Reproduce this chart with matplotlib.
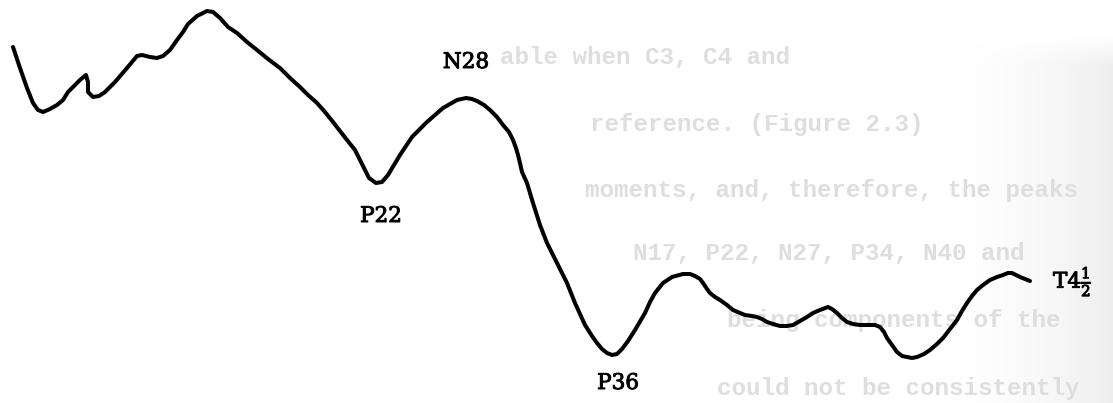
import numpy as np
import matplotlib
matplotlib.use("Agg")
import matplotlib.pyplot as plt
import matplotlib.patheffects as pe

plt.rcParams['mathtext.fontset'] = 'dejavuserif'

# traced evoked response (time axis left -> right, amplitude measured downwards)
t = [13, 20, 27, 33, 38, 43, 50, 57, 63, 68, 75, 80, 86, 88, 88, 93, 99, 105,
     115, 127, 137, 142, 150, 157, 163, 170, 177, 183, 188, 197, 207, 213, 220,
     228, 237, 247, 257, 268, 280, 290, 300, 308, 317, 325, 333, 340, 347, 355,
     360, 365, 369, 376, 382, 388, 394, 400, 406, 412, 420, 427, 435, 443, 450,
     457, 466, 472, 477, 484, 490, 497, 503, 509, 513, 516, 518, 520, 522, 527,
     533, 540, 547, 552, 557, 562, 567, 575, 585, 592, 597, 602, 607, 612, 617,
     622, 628, 635, 645, 650, 655, 663, 672, 683, 690, 695, 700, 703, 707, 710,
     715, 720, 727, 733, 740, 745, 752, 757, 762, 767, 773, 780, 787, 793, 800,
     807, 813, 820, 828, 832, 837, 842, 847, 853, 860, 867, 875, 880, 884, 887,
     892, 897, 902, 907, 912, 917, 924, 930, 937, 943, 950, 957, 962, 967, 972,
     977, 983, 990, 997, 1003, 1008, 1012, 1016, 1020, 1025, 1030]
amp = [47, 68, 88, 103, 110, 112, 109, 105, 100, 92, 85, 80, 75, 82, 92, 97, 96, 92,
       82, 68, 56, 55, 57, 58, 56, 50, 40, 32, 24, 16, 11, 12, 18,
       27, 33, 42, 50, 59, 68, 78, 87, 95, 103, 112, 122, 131, 140, 150,
       160, 170, 178, 183, 182, 175, 165, 155, 146, 137, 129, 122, 115, 108, 104,
       100, 98, 99, 101, 105, 110, 117, 125, 132, 140, 148, 155, 163, 172, 183,
       203, 225, 243, 253, 263, 273, 283, 303, 325, 336, 343, 349, 353, 355, 354,
       349, 341, 330, 313, 302, 293, 283, 277, 274, 274, 276, 279, 283, 289, 293,
       297, 300, 305, 310, 313, 315, 316, 317, 319, 322, 324, 326, 326, 325, 321,
       317, 313, 310, 307, 309, 313, 318, 322, 324, 325, 325, 325, 327, 332, 338,
       345, 352, 356, 357, 358, 357, 354, 350, 344, 338, 329, 320, 311, 303, 296,
       290, 285, 280, 277, 275, 273, 273, 275, 277, 279, 281]

peak_names = ['N28', 'P22', 'P36', r'T4$\frac{1}{2}$']
peak_pos = [(466, 62), (381, 216), (618, 383), (1053, 281)]
peak_ha = ['center', 'center', 'center', 'left']

# faint text showing through from the reverse of the page
back_lines = ['able when C3, C4 and',
              'reference. (Figure 2.3)',
              'moments, and, therefore, the peaks',
              'N17, P22, N27, P34, N40 and',
              'being components of the',
              'could not be consistently']
back_pos = [(500, 57), (590, 125), (585, 190), (633, 254), (727, 320), (717, 388)]

fig = plt.figure(figsize=(11.13, 4.03), dpi=100)
ax = fig.add_axes([0, 0, 1, 1])
ax.set_xlim(0, 1113)
ax.set_ylim(403, 0)
ax.axis('off')

# grey haze along the right margin of the scan
gx = np.linspace(0, 1, 200) ** 2
gy = np.clip(np.linspace(0, 12, 300), 0, 1)
haze = gy[:, None] * gx[None, :]
ax.imshow(haze, extent=(920, 1113, 403, 35), cmap='Greys', vmin=0, vmax=7,
          aspect='auto', zorder=0, interpolation='bilinear', origin='upper')

for s, (x, y) in zip(back_lines, back_pos):
    ax.text(x, y, s, ha='left', va='center', color='#dedede',
            fontsize=17.5, family='Liberation Mono', fontweight='bold', zorder=1)

ax.plot(t, amp, color='black', lw=2.9, solid_joinstyle='round',
        solid_capstyle='round', zorder=2)

for s, (x, y), ha in zip(peak_names, peak_pos, peak_ha):
    ax.text(x, y, s, ha=ha, va='center', color='black', fontsize=15.5,
            family='DejaVu Serif', zorder=3,
            path_effects=[pe.withStroke(linewidth=0.7, foreground='black')])

ax.set_xlim(0, 1113)
ax.set_ylim(403, 0)
fig.savefig('out.png', dpi=100)
